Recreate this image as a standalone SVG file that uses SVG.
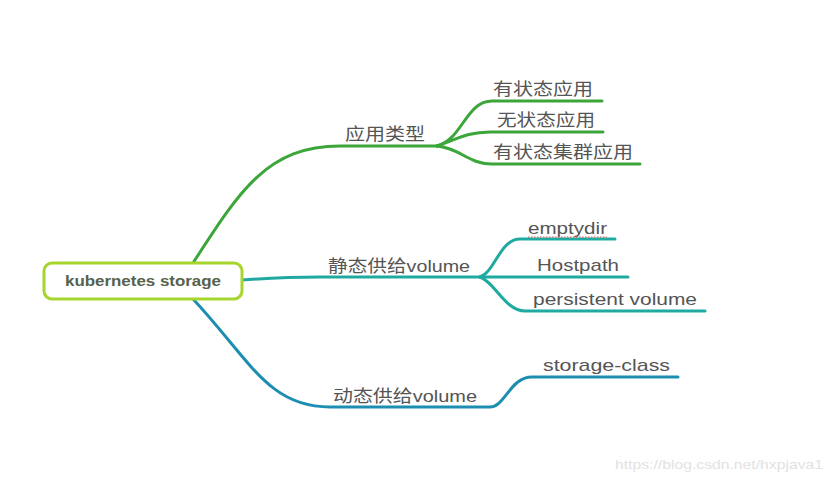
<svg xmlns="http://www.w3.org/2000/svg" width="833" height="484" viewBox="0 0 833 484">
<style>
.t{font-family:"Liberation Sans","Noto Sans CJK SC",sans-serif;font-size:17px;fill:#555555}
.g{fill:none;stroke:#3ca63a;stroke-width:3;stroke-linecap:round}
.c{fill:none;stroke:#1fa9a0;stroke-width:3;stroke-linecap:round}
.b{fill:none;stroke:#1d8db2;stroke-width:3;stroke-linecap:round}
</style>
<rect width="833" height="484" fill="#ffffff"/>
<g id="connectors">
<path class="g" d="M193,263 C240,190 268,146 340,146 H437"/>
<path class="g" d="M437,146 C462,140 466,101 492,101 H602"/>
<path class="g" d="M437,146 C456,140 466,132 490,132 H603"/>
<path class="g" d="M437,146 C460,148 468,164 492,164 H640"/>
<path class="c" d="M242,280 C270,278 290,277 320,277 H480"/>
<path class="c" d="M480,277 C495,272 500,239 520,239 H615"/>
<path class="c" d="M480,277 H628"/>
<path class="c" d="M480,277 C495,282 505,311 525,311 H705"/>
<path class="b" d="M193,299 C250,360 268,407 330,407 H490 C505,407 510,377 532,377 H678"/>
</g>
<g id="root">
<rect x="44" y="263" width="198" height="36" rx="8" fill="#ffffff" stroke="#a6d62e" stroke-width="3"/>
<text x="143" y="286" text-anchor="middle" font-family="Liberation Sans, sans-serif" font-size="14" font-weight="bold" fill="#56624c" textLength="156" lengthAdjust="spacingAndGlyphs">kubernetes storage</text>
</g>
<g id="app-type"><text class="t" x="345" y="140" textLength="80" lengthAdjust="spacingAndGlyphs">应用类型</text></g>
<g id="stateful"><text class="t" x="493" y="95" textLength="100" lengthAdjust="spacingAndGlyphs">有状态应用</text></g>
<g id="stateless"><text class="t" x="497" y="126" textLength="98" lengthAdjust="spacingAndGlyphs">无状态应用</text></g>
<g id="stateful-cluster"><text class="t" x="493" y="158" textLength="140" lengthAdjust="spacingAndGlyphs">有状态集群应用</text></g>
<g id="static"><text class="t" x="328" y="272" textLength="142" lengthAdjust="spacingAndGlyphs">静态供给volume</text></g>
<g id="emptydir"><text class="t" x="528" y="234" textLength="79" lengthAdjust="spacingAndGlyphs">emptydir</text>
<line x1="528" y1="237" x2="607" y2="237" stroke="#e05050" stroke-width="1.2" stroke-dasharray="1.5,1.5"/></g>
<g id="hostpath"><text class="t" x="537" y="271" textLength="82" lengthAdjust="spacingAndGlyphs">Hostpath</text></g>
<g id="pv"><text class="t" x="533" y="305" textLength="164" lengthAdjust="spacingAndGlyphs">persistent volume</text></g>
<g id="dynamic"><text class="t" x="333" y="402" textLength="144" lengthAdjust="spacingAndGlyphs">动态供给volume</text></g>
<g id="storage-class"><text class="t" x="543" y="371" textLength="127" lengthAdjust="spacingAndGlyphs">storage-class</text></g>
<text x="615" y="469" font-family="Liberation Sans, sans-serif" font-size="13" fill="#e2e2e2" textLength="208" lengthAdjust="spacingAndGlyphs">https://blog.csdn.net/hxpjava1</text>
</svg>
